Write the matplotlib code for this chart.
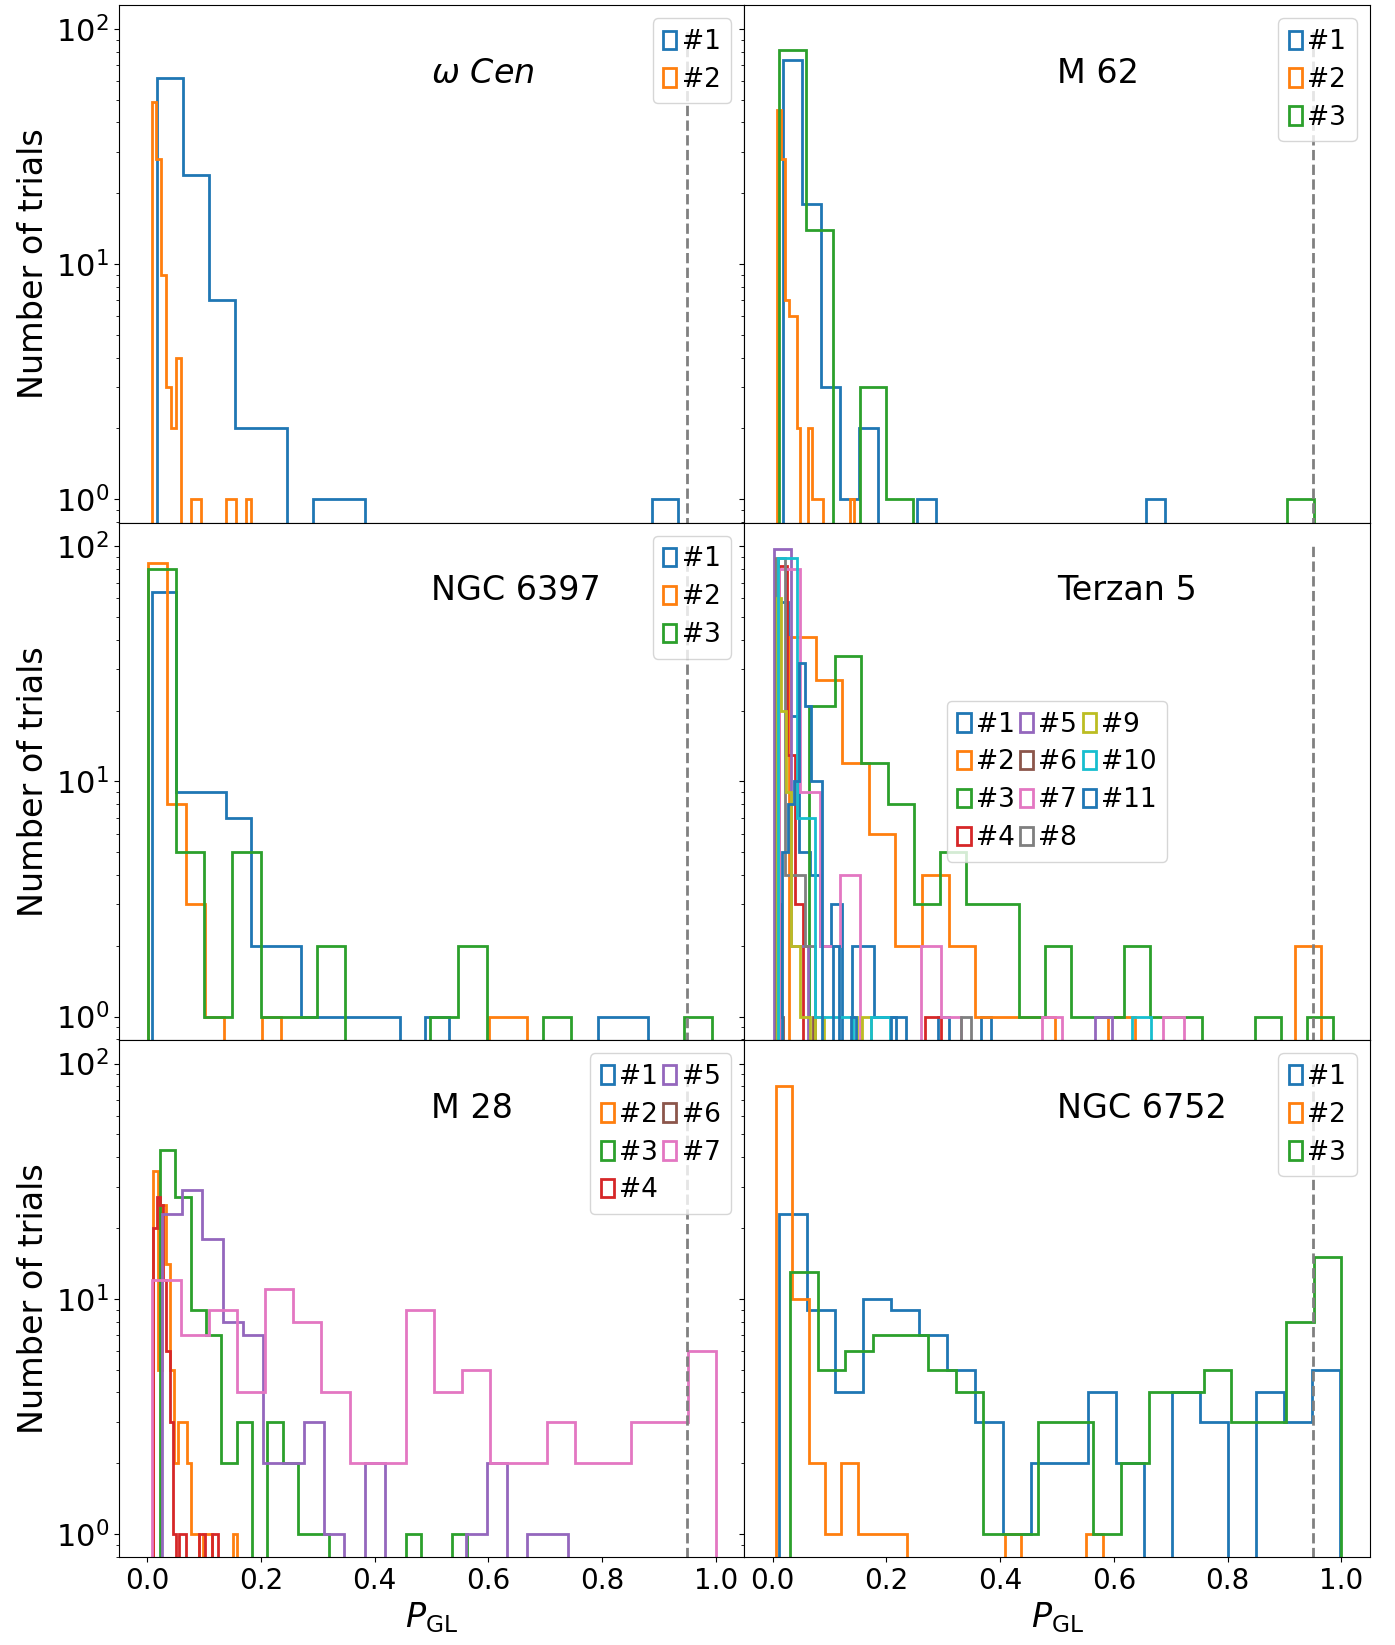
import matplotlib
matplotlib.use('Agg')
import matplotlib.pyplot as plt
import numpy as np

## DATA: per series bin range (lo, hi) and the 20 bin counts ##
wcen_range = [(0.018, 0.933), (0.0079, 0.183)]
wcen_counts = [[62, 24, 7, 2, 2, 0, 1, 1, 0, 0, 0, 0, 0, 0, 0, 0, 0, 0, 0, 1],
               [49, 28, 9, 3, 2, 4, 0, 0, 1, 1, 0, 0, 0, 0, 0, 1, 1, 0, 0, 1]]

m62_range = [(0.018, 0.690), (0.0083, 0.1434), (0.012, 0.952)]
m62_counts = [[74, 18, 3, 1, 2, 0, 0, 1, 0, 0, 0, 0, 0, 0, 0, 0, 0, 0, 0, 1],
              [45, 28, 7, 6, 6, 2, 0, 0, 2, 1, 1, 1, 0, 0, 0, 0, 0, 0, 0, 1],
              [81, 14, 0, 3, 1, 0, 0, 0, 0, 0, 0, 0, 0, 0, 0, 0, 0, 0, 0, 1]]

ngc6397_range = [(0.008, 0.881), (0.0014, 0.668), (0.0014, 0.994)]
ngc6397_counts = [[64, 9, 9, 7, 2, 2, 1, 1, 1, 1, 0, 1, 0, 0, 0, 0, 0, 0, 1, 1],
                  [85, 8, 3, 1, 0, 0, 1, 0, 0, 0, 0, 0, 0, 0, 0, 0, 0, 0, 1, 1],
                  [80, 5, 1, 5, 1, 1, 2, 0, 0, 0, 1, 2, 0, 0, 1, 0, 0, 0, 0, 1]]

ter5_range = [(0.0083, 0.3847), (0.0287, 0.9645), (0.0639, 0.9856), (0.0106, 0.2955),
              (0.0023, 0.5958), (0.005, 0.075), (0.012, 0.7226), (0.0053, 0.3483),
              (0.007, 0.1734), (0.0093, 0.6649), (0.0167, 0.2172)]
ter5_counts = [[58, 19, 5, 4, 2, 3, 0, 2, 2, 1, 1, 1, 0, 0, 0, 1, 0, 0, 0, 1],
               [41, 27, 12, 6, 2, 4, 2, 1, 1, 1, 0, 0, 1, 0, 0, 0, 0, 0, 0, 2],
               [21, 34, 12, 8, 3, 5, 3, 3, 1, 2, 1, 1, 2, 1, 1, 0, 0, 1, 0, 1],
               [82, 13, 3, 0, 0, 0, 0, 0, 0, 0, 0, 0, 0, 0, 0, 0, 0, 0, 1, 1],
               [97, 2, 0, 0, 0, 0, 0, 0, 0, 0, 0, 0, 0, 0, 0, 0, 0, 0, 0, 1],
               [88, 7, 3, 1, 0, 0, 0, 0, 0, 0, 0, 0, 0, 0, 0, 0, 0, 0, 0, 1],
               [80, 9, 2, 4, 0, 0, 0, 2, 1, 0, 0, 0, 0, 1, 0, 0, 0, 0, 0, 1],
               [89, 4, 4, 2, 0, 0, 0, 0, 0, 0, 0, 0, 0, 0, 0, 0, 0, 0, 0, 1],
               [60, 20, 9, 2, 2, 1, 1, 0, 1, 1, 0, 0, 0, 0, 0, 0, 1, 0, 1, 1],
               [89, 7, 1, 1, 0, 1, 0, 0, 0, 0, 0, 0, 0, 0, 0, 0, 0, 0, 0, 1],
               [5, 8, 10, 32, 21, 10, 10, 0, 0, 2, 0, 0, 1, 0, 0, 0, 0, 0, 0, 1]]

# #1 and #6 of M 28 leave no visible trace in the figure
m28_range = [(0.0111, 0.1255), (0.0111, 0.1579), (0.0229, 0.5626), (0.0111, 0.1255),
             (0.0256, 0.7398), (0.0111, 0.1255), (0.0094, 1.0)]
m28_counts = [[0] * 20,
              [35, 5, 25, 14, 5, 2, 3, 3, 2, 1, 1, 0, 1, 1, 0, 0, 0, 0, 0, 1],
              [43, 27, 9, 7, 2, 3, 0, 3, 2, 1, 1, 0, 0, 0, 0, 0, 1, 0, 0, 1],
              [20, 27, 25, 12, 6, 3, 1, 0, 1, 1, 0, 0, 0, 0, 1, 1, 0, 0, 1, 1],
              [23, 29, 18, 8, 7, 2, 2, 3, 1, 0, 2, 0, 0, 0, 0, 1, 2, 0, 1, 1],
              [0] * 20,
              [12, 7, 9, 4, 11, 8, 4, 2, 2, 9, 4, 5, 2, 2, 3, 2, 2, 3, 3, 6]]

ngc6752_range = [(0.0115, 0.997), (0.0057, 0.58), (0.031, 1.0)]
ngc6752_counts = [[23, 9, 4, 10, 9, 7, 5, 3, 1, 2, 2, 4, 2, 0, 4, 3, 0, 4, 3, 5],
                  [80, 10, 2, 1, 2, 1, 1, 1, 0, 0, 0, 0, 0, 0, 1, 0, 0, 0, 0, 1],
                  [13, 5, 6, 7, 7, 5, 4, 1, 1, 3, 3, 1, 2, 4, 4, 5, 3, 3, 8, 15]]

names = [r'$\omega\ Cen$', 'M 62', 'NGC 6397', 'Terzan 5', 'M 28', 'NGC 6752']
threshold = 0.95

panels = [(wcen_range, wcen_counts, 'upper right', 1),
          (m62_range, m62_counts, 'upper right', 1),
          (ngc6397_range, ngc6397_counts, 'upper right', 1),
          (ter5_range, ter5_counts, 'center', 3),
          (m28_range, m28_counts, 'upper right', 2),
          (ngc6752_range, ngc6752_counts, 'upper right', 1)]

plt.rcParams['xtick.labelsize'] = 20
plt.rcParams['ytick.labelsize'] = 22

fig, axes = plt.subplots(3, 2, figsize=(13.95, 16.45), dpi=100, sharex=True, sharey=True)
fig.subplots_adjust(left=0.085, right=0.982, top=0.9968, bottom=0.0532, hspace=0, wspace=0)

for ax, name, (ranges, counts, loc, ncol) in zip(axes.flat, names, panels):
    for i, ((lo, hi), c) in enumerate(zip(ranges, counts)):
        edges = np.linspace(lo, hi, 21)
        centers = 0.5 * (edges[:-1] + edges[1:])
        ax.hist(centers, bins=edges, weights=c, histtype='step', log=True,
                lw=2, label='#%d' % (i + 1))
    ax.vlines(threshold, 1e-3, 100, colors='grey', linestyles='--', lw=2)
    ax.text(0.5, 0.85, name, transform=ax.transAxes, fontsize=24)
    ax.legend(loc=loc, ncol=ncol, fontsize=19, handlelength=0.5, handletextpad=0.2,
              columnspacing=0.2, labelspacing=0.45)
    ax.set_xlim(-0.05, 1.05)
    ax.set_ylim(10 ** -0.1, 10 ** 2.1)

for ax in axes[:, 0]:
    ax.set_ylabel('Number of trials', fontsize=24)
for ax in axes[-1, :]:
    ax.set_xlabel(r'$P_{\rm GL}$', fontsize=24)

plt.savefig('out.png', dpi=100)
